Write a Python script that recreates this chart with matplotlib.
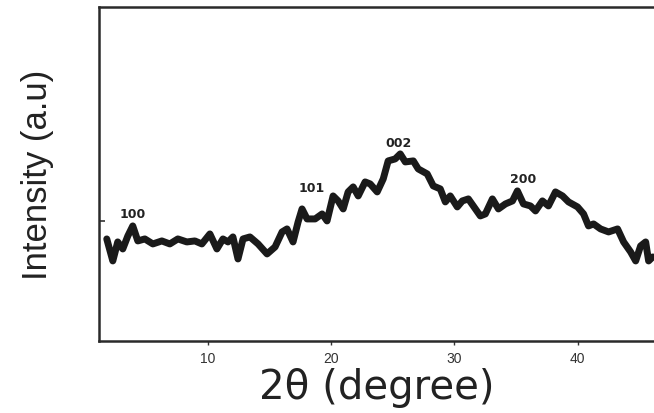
import matplotlib
matplotlib.use("Agg")
import matplotlib.pyplot as plt

two_theta = [1.79, 2.28, 2.68, 3.09, 3.50, 3.90, 4.31, 4.88, 5.53, 6.26, 6.91, 7.56, 8.29, 8.94,
             9.51, 10.16, 10.73, 11.22, 11.63, 12.03, 12.44, 12.85, 13.41, 14.07, 14.80, 15.45,
             16.02, 16.42, 16.91, 17.32, 17.64, 18.05, 18.70, 19.27, 19.67, 20.16, 20.57, 20.98,
             21.38, 21.79, 22.20, 22.76, 23.17, 23.74, 24.23, 24.63, 25.20, 25.61, 26.02, 26.67,
             27.07, 27.80, 28.29, 28.86, 29.27, 29.67, 30.24, 30.65, 31.14, 31.54, 32.11, 32.52,
             33.09, 33.58, 34.15, 34.72, 35.12, 35.61, 36.18, 36.59, 37.15, 37.64, 38.21, 38.78,
             39.27, 40.00, 40.49, 40.89, 41.30, 41.87, 42.52, 43.25, 43.74, 44.31, 44.72, 45.12,
             45.53, 45.77, 46.10]
intensity = [102, 80, 99, 92, 105, 115, 100, 102, 97, 100, 97, 102, 99, 100,
             97, 107, 92, 102, 99, 104, 82, 102, 104, 97, 87, 94,
             109, 112, 99, 119, 132, 122, 122, 127, 120, 145, 140, 132,
             149, 154, 145, 159, 157, 149, 162, 180, 182, 187, 179, 180,
             172, 167, 155, 152, 139, 145, 134, 140, 142, 135, 125, 127,
             142, 132, 137, 140, 150, 137, 135, 130, 140, 135, 149, 145,
             139, 134, 127, 115, 117, 112, 109, 112, 99, 89, 80, 95,
             99, 80, 84]

peak_labels = ["100", "101", "002", "200"]
peak_x = [3.9, 18.4, 25.5, 35.6]
peak_y = [127, 153, 198, 162]

x_ticks = [10, 20, 30, 40]

fig = plt.figure(figsize=(6.54, 4.14), dpi=100)
ax = fig.add_axes([0.151, 0.174, 0.85, 0.807])
ax.plot(two_theta, intensity, color="#1a1a1a", lw=5, solid_joinstyle="round", solid_capstyle="round")
for lab, px, py in zip(peak_labels, peak_x, peak_y):
    ax.text(px, py, lab, ha="center", va="center", fontsize=9, fontweight="bold",
            family="DejaVu Sans", color="#222222")

ax.set_xlim(1.14, 46.26)
ax.set_ylim(0, 334)
ax.set_xticks(x_ticks)
ax.set_xticklabels([str(t) for t in x_ticks], fontsize=10, family="Liberation Sans", color="#222222")
ax.set_yticks([120])
ax.set_yticklabels([])
ax.tick_params(axis="x", direction="out", length=3, width=1, pad=4, colors="#333333")
ax.tick_params(axis="y", direction="in", length=4, width=1.2, colors="#333333")
for side in ["left", "bottom", "top"]:
    ax.spines[side].set_linewidth(1.8)
    ax.spines[side].set_color("#2a2a2a")
ax.spines["right"].set_visible(False)

ax.set_xlabel("2θ (degree)", fontsize=29, family="DejaVu Sans", color="#222222", labelpad=2)
ax.set_ylabel("Intensity (a.u)", fontsize=25, family="Liberation Sans", color="#222222", labelpad=29)

fig.savefig("out.png", dpi=100)
